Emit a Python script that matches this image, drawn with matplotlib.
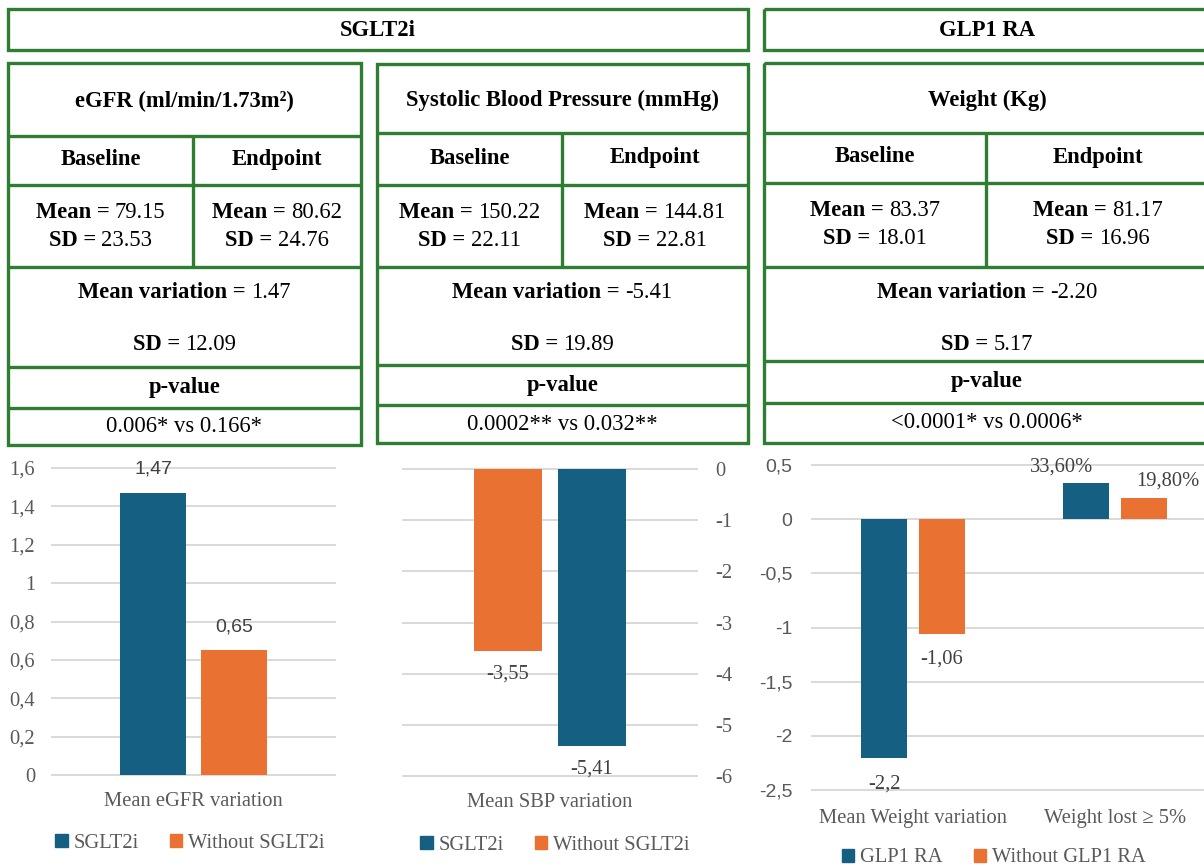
import matplotlib
matplotlib.use('Agg')
import matplotlib.pyplot as plt
from matplotlib.patches import Rectangle, Patch
import numpy as np

# ---------------------------------------------------------------- data --- #
headers = ['SGLT2i', 'GLP1 RA']
table_titles = ['eGFR (ml/min/1.73m²)', 'Systolic Blood Pressure (mmHg)', 'Weight (Kg)']
baseline_mean = ['79.15', '150.22', '83.37']
baseline_sd = ['23.53', '22.11', '18.01']
endpoint_mean = ['80.62', '144.81', '81.17']
endpoint_sd = ['24.76', '22.81', '16.96']
mean_variation = ['1.47', '-5.41', '-2.20']
variation_sd = ['12.09', '19.89', '5.17']
p_values = ['0.006* vs 0.166*', '0.0002** vs 0.032**', '<0.0001* vs 0.0006*']

sglt2_groups = ['SGLT2i', 'Without SGLT2i']
egfr_values = [1.47, 0.65]
egfr_labels = ['1,47', '0,65']
sbp_values = [-5.41, -3.55]
sbp_labels = ['-5,41', '-3,55']

glp1_groups = ['GLP1 RA', 'Without GLP1 RA']
weight_categories = ['Mean Weight variation', 'Weight lost ≥ 5%']
glp1_values = [-2.2, 0.336]
glp1_labels = ['-2,2', '33,60%']
no_glp1_values = [-1.06, 0.198]
no_glp1_labels = ['-1,06', '19,80%']

# --------------------------------------------------------------- setup --- #
W, H = 1204, 868
fig = plt.figure(figsize=(W / 100, H / 100), dpi=100)
ov = fig.add_axes([0, 0, 1, 1])
ov.set_xlim(0, W)
ov.set_ylim(H, 0)
ov.axis('off')
renderer = fig.canvas.get_renderer()

GREEN = '#2f7d32'
BLUE = '#156082'
ORANGE = '#e97132'
GRID = '#d9d9d9'
GREY = '#595959'
SERIF = 'Liberation Serif'
SANS = 'Liberation Sans'
LW = 2.4
FS = 16.3
CFS = 14.8   # chart text size


def box(x0, y0, x1, y1):
    ov.add_patch(Rectangle((x0, y0), x1 - x0, y1 - y0, fill=False,
                           ec=GREEN, lw=LW, clip_on=True))


def seg(xs, ys):
    ov.plot(xs, ys, color=GREEN, lw=LW, solid_capstyle='butt')


def txt(x, y, s, weight='normal', size=FS):
    ov.text(x, y, s, fontsize=size, fontweight=weight, family=SERIF,
            ha='center', va='center', color='black')


def mixed(x, y, bold, normal, size=FS, gap=5.5):
    # bold label followed by a regular value, centred as one string
    t1 = ov.text(0, y, bold, fontsize=size, fontweight='bold', family=SERIF,
                 ha='left', va='center')
    t2 = ov.text(0, y, normal, fontsize=size, family=SERIF,
                 ha='left', va='center')
    w1 = t1.get_window_extent(renderer).width
    w2 = t2.get_window_extent(renderer).width
    x0 = x - (w1 + gap + w2) / 2
    t1.set_x(x0)
    t2.set_x(x0 + w1 + gap)


# header boxes
box(8, 9, 748, 50)
txt(378, 31, headers[0], 'bold')
box(764, 9, 1210, 50)
txt(987, 31, headers[1], 'bold')

# tables: x0, x1, middle split, row boundaries
tables = [
    (8, 361, 193, [63, 136, 185, 267, 367, 408, 445]),
    (377, 748, 562, [64, 133, 185, 267, 365, 405, 443]),
    (764, 1210, 986, [63, 133, 183, 267, 361, 403, 443]),
]

for i, (x0, x1, xm, rows) in enumerate(tables):
    box(x0, rows[0], x1, rows[-1])
    for y in rows[1:-1]:
        seg([x0, x1], [y, y])
    seg([xm, xm], [rows[1], rows[3]])
    cx = (x0 + x1) / 2
    cl = (x0 + xm) / 2
    cr = (xm + x1) / 2
    txt(cx, (rows[0] + rows[1]) / 2 + 2, table_titles[i], 'bold')
    yb = (rows[1] + rows[2]) / 2 - 1
    txt(cl, yb, 'Baseline', 'bold')
    txt(cr, yb, 'Endpoint', 'bold')
    ym = (rows[2] + rows[3]) / 2
    mixed(cl, ym - 14, 'Mean =', baseline_mean[i])
    mixed(cl, ym + 14, 'SD =', baseline_sd[i])
    mixed(cr, ym - 14, 'Mean =', endpoint_mean[i])
    mixed(cr, ym + 14, 'SD =', endpoint_sd[i])
    mixed(cx, rows[3] + 25, 'Mean variation =', mean_variation[i])
    mixed(cx, rows[3] + 78, 'SD =', variation_sd[i])
    txt(cx, (rows[4] + rows[5]) / 2, 'p-value', 'bold')
    txt(cx, (rows[5] + rows[6]) / 2, p_values[i])


# --------------------------------------------------------------- charts --- #
def chart_axes(x0, y0, x1, y1):
    return fig.add_axes([x0 / W, 1 - y1 / H, (x1 - x0) / W, (y1 - y0) / H])


def style(ax, ticks, tick_font, pad):
    for s in ax.spines.values():
        s.set_visible(False)
    ax.set_yticks(ticks)
    ax.set_yticklabels([f'{v:g}'.replace('.', ',') for v in ticks],
                       family=tick_font, fontsize=CFS if tick_font == SERIF else 14,
                       color=GREY)
    ax.tick_params(length=0)
    ax.tick_params(axis='y', pad=pad)
    ax.yaxis.grid(True, color=GRID, lw=1.4)
    for l in ax.get_ygridlines():
        l.set_clip_on(False)
    ax.set_axisbelow(True)
    ax.patch.set_visible(False)


def legend(cx, cy, labels):
    handles = [Patch(color=BLUE), Patch(color=ORANGE)]
    fig.legend(handles, labels, loc='center', bbox_to_anchor=(cx / W, 1 - cy / H),
               ncol=2, frameon=False, handlelength=0.6, handleheight=0.6,
               handletextpad=0.3, columnspacing=1.5,
               prop={'family': SERIF, 'size': CFS}, labelcolor=GREY)


w = 0.23
off = 0.143

# eGFR chart
ax1 = chart_axes(52, 468, 335, 775)
ax1.set_xlim(-0.5, 0.5)
ax1.set_ylim(0, 1.6)
b = ax1.bar([-off, off], egfr_values, w, color=[BLUE, ORANGE])
for rect, lab in zip(b, egfr_labels):
    ax1.annotate(lab, (rect.get_x() + rect.get_width() / 2, rect.get_height()),
                 xytext=(0, 17), textcoords='offset points', ha='center', va='center',
                 family=SANS, fontsize=14, color='#404040')
style(ax1, np.arange(0, 1.61, 0.2), SERIF, 12)
ax1.set_xticks([0], ['Mean eGFR variation'], family=SERIF, fontsize=CFS, color=GREY)
ax1.tick_params(axis='x', pad=12)
legend(190, 843, sglt2_groups)

# SBP chart (reversed order, axis on the right)
ax2 = chart_axes(403, 469, 697, 776)
ax2.set_xlim(-0.5, 0.5)
ax2.set_ylim(-6, 0)
b = ax2.bar([off, -off], sbp_values, w, color=[BLUE, ORANGE])
for rect, lab in zip(b, sbp_labels):
    ax2.annotate(lab, (rect.get_x() + rect.get_width() / 2, rect.get_height()),
                 xytext=(0, -17), textcoords='offset points', ha='center', va='center',
                 family=SERIF, fontsize=CFS, color='#404040')
ax2.yaxis.tick_right()
style(ax2, np.arange(-6, 0.1, 1), SERIF, 13)
ax2.set_xticks([0], ['Mean SBP variation'], family=SERIF, fontsize=CFS, color=GREY)
ax2.tick_params(axis='x', pad=12)
legend(555, 845, sglt2_groups)

# weight chart
ax3 = chart_axes(812, 465, 1216, 790)
ax3.set_xlim(-0.5, 1.5)
ax3.set_ylim(-2.5, 0.5)
x = np.arange(len(weight_categories))
b1 = ax3.bar(x - off, glp1_values, w, color=BLUE)
b2 = ax3.bar(x + off, no_glp1_values, w, color=ORANGE)
label_offsets = [[(0, -19), (-18, 11)], [(0, -18), (17, 12)]]
for bars, labs, offs in zip([b1, b2], [glp1_labels, no_glp1_labels], label_offsets):
    for rect, lab, o in zip(bars, labs, offs):
        ax3.annotate(lab, (rect.get_x() + rect.get_width() / 2, rect.get_height()),
                     xytext=o, textcoords='offset points', ha='center', va='center',
                     family=SERIF, fontsize=CFS, color='#404040')
style(ax3, np.arange(-2.5, 0.51, 0.5), SANS, 14)
ax3.set_xticks(x, weight_categories, family=SERIF, fontsize=CFS, color=GREY)
ax3.tick_params(axis='x', pad=14)
legend(994, 858, glp1_groups)

fig.savefig('out.png', dpi=100)
